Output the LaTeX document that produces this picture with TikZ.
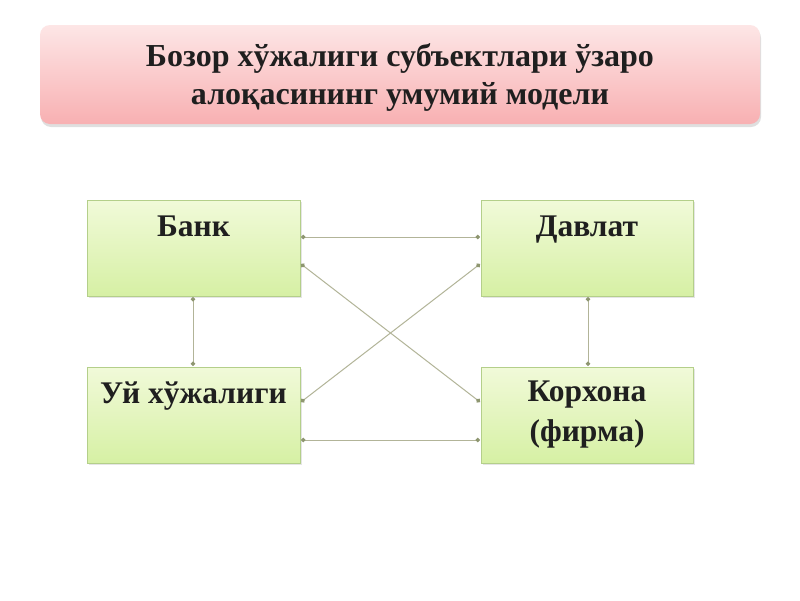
\documentclass[tikz,border=0pt]{standalone}
\usepackage{fontspec}
\setmainfont{Liberation Serif}
\usetikzlibrary{arrows.meta,shadows,fadings}
\definecolor{pinktop}{HTML}{FDE6E6}
\definecolor{pinkbot}{HTML}{F8B0B2}
\definecolor{greentop}{HTML}{F1FAD9}
\definecolor{greenbot}{HTML}{D6F0A4}
\definecolor{greenedge}{HTML}{B4CF8A}
\definecolor{linkcol}{HTML}{B2B498}
\definecolor{tipcol}{HTML}{8E9670}
\tikzset{
  titlebox/.style={rounded corners=10pt, draw=none, top color=pinktop, bottom color=pinkbot,
    drop shadow={shadow xshift=1pt, shadow yshift=-3pt, opacity=0.25}},
  entbox/.style={draw=greenedge, line width=0.8pt, top color=greentop, bottom color=greenbot,
    drop shadow={shadow xshift=1.5pt, shadow yshift=-1.5pt, opacity=0.2}},
  lbl/.style={font=\fontsize{31.5}{40}\selectfont\bfseries, text=black!88, align=center},
  link/.style={draw=linkcol, line width=1pt, {Circle[length=4.5pt,color=tipcol]}-{Circle[length=4.5pt,color=tipcol]}},
}
\begin{document}
\begin{tikzpicture}[x=1pt,y=-1pt]
\useasboundingbox (0,0) rectangle (800,600);
\fill[white] (0,0) rectangle (800,600);
% title
\path[titlebox] (40,25) rectangle (760,124);
\node[lbl, font=\fontsize{32}{38}\selectfont\bfseries] (title) at (400,77) {Бозор хўжалиги субъектлари ўзаро\\алоқасининг умумий модели};
% boxes
\path[entbox] (87,200) rectangle (300,296);
\path[entbox] (481,200) rectangle (693,296);
\path[entbox] (87,367) rectangle (300,463);
\path[entbox] (481,367) rectangle (693,463);
\node[lbl, anchor=base] (bank) at (193.5,236) {Банк};
\node[lbl, anchor=base] (davlat) at (587,236) {Давлат};
\node[lbl, anchor=base] (uy) at (193.5,403) {Уй хўжалиги};
\node[lbl] (korxona) at (587,415) {Корхона\\(фирма)};
% anchors
\coordinate (bR1) at (301,237);
\coordinate (bR2) at (301,264);
\coordinate (bB) at (193,297);
\coordinate (dL1) at (480,237);
\coordinate (dL2) at (480,264);
\coordinate (dB) at (588,297);
\coordinate (uR1) at (301,402);
\coordinate (uR2) at (301,440);
\coordinate (uT) at (193,366);
\coordinate (kL1) at (480,402);
\coordinate (kL2) at (480,440);
\coordinate (kT) at (588,366);
\draw[link] (bR1) -- (dL1);
\draw[link] (bR2) -- (kL1);
\draw[link] (uR1) -- (dL2);
\draw[link] (uR2) -- (kL2);
\draw[link] (bB) -- (uT);
\draw[link] (dB) -- (kT);
\end{tikzpicture}
\end{document}
